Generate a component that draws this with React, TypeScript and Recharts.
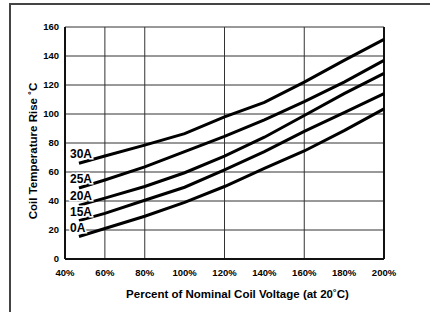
import React from "react";
import { LineChart, Line, XAxis, YAxis, CartesianGrid, ReferenceLine } from "recharts";

const voltagePct = [47, 60, 80, 100, 120, 140, 160, 180, 200];
const rise30A = [66, 71, 78.5, 86.5, 98, 108, 122, 137, 151.5];
const rise25A = [49, 54.5, 63.5, 74, 84.5, 96, 108.5, 122, 137];
const rise20A = [37, 42, 50, 59.5, 71, 84, 99, 114, 128];
const rise15A = [26.5, 31.5, 40.5, 49.5, 61.5, 74, 88, 101, 114];
const rise0A = [15.5, 21, 29.5, 39, 50, 62.5, 74.5, 88.5, 103.5];

const xTicks = [40, 60, 80, 100, 120, 140, 160, 180, 200];
const yTicks = [0, 20, 40, 60, 80, 100, 120, 140, 160];

const series = [
  { key: "a30", name: "30A", values: rise30A },
  { key: "a25", name: "25A", values: rise25A },
  { key: "a20", name: "20A", values: rise20A },
  { key: "a15", name: "15A", values: rise15A },
  { key: "a0", name: "0A", values: rise0A },
];

const data = voltagePct.map((v, i) => {
  const row: Record<string, number> = { v };
  series.forEach((s) => (row[s.key] = s.values[i]));
  return row;
});

const font = "'Liberation Sans', Arial, Helvetica, sans-serif";
const tickStyle = { fontSize: 9.5, fontWeight: 700, fill: "#000", fontFamily: font };

// current label drawn only at the first point of each curve
const startLabel = (name: string) => (p: any) => {
  if (p.index !== 0) return null;
  return (
    <text
      x={p.x - 9}
      y={p.y - 5}
      fontSize={12}
      fontWeight={700}
      fontFamily={font}
      fill="#000"
      stroke="#fff"
      strokeWidth={3}
      paintOrder="stroke"
    >
      {name}
    </text>
  );
};

export default function App() {
  return (
    <div style={{ position: "absolute", left: 0, top: 0, width: 430, height: 312, background: "#fff" }}>
      <div
        style={{
          position: "absolute",
          left: 9,
          top: 3,
          width: 421,
          height: 309,
          borderTop: "2px solid #444",
          borderLeft: "2px solid #444",
          boxSizing: "border-box",
        }}
      />
      <div style={{ position: "absolute", left: 0, top: 0 }}>
        <LineChart width={430} height={312} data={data} margin={{ top: 27, right: 46, bottom: 23, left: 25 }}>
          <CartesianGrid stroke="#333" strokeWidth={1} />
          <XAxis
            dataKey="v"
            type="number"
            domain={[40, 200]}
            ticks={xTicks}
            tickFormatter={(v) => `${v}%`}
            tick={tickStyle}
            tickLine={false}
            tickSize={6}
            tickMargin={4}
            height={30}
            axisLine={{ stroke: "#111", strokeWidth: 2 }}
            label={{
              content: (props: any) => {
                const vb = props.viewBox;
                return (
                  <text
                    x={vb.x + vb.width / 2 + 13}
                    y={298}
                    textAnchor="middle"
                    fontSize={11.5}
                    fontWeight={700}
                    fontFamily={font}
                    fill="#000"
                  >
                    Percent of Nominal Coil Voltage (at 20˚C)
                  </text>
                );
              },
            }}
          />
          <YAxis
            type="number"
            domain={[0, 160]}
            ticks={yTicks}
            tick={tickStyle}
            tickLine={false}
            tickSize={4}
            tickMargin={2}
            width={40}
            axisLine={{ stroke: "#111", strokeWidth: 2 }}
            label={{
              content: (props: any) => {
                const vb = props.viewBox;
                const cy = vb.y + vb.height / 2 + 8;
                return (
                  <text
                    x={33}
                    y={cy}
                    transform={`rotate(-90 33 ${cy})`}
                    textAnchor="middle"
                    dominantBaseline="central"
                    fontSize={11.5}
                    fontWeight={700}
                    fontFamily={font}
                    fill="#000"
                  >
                    Coil Temperature Rise ˚C
                  </text>
                );
              },
            }}
          />
          <ReferenceLine x={200} stroke="#111" strokeWidth={2} />
          {series.map((s) => (
            <Line
              key={s.key}
              type="linear"
              dataKey={s.key}
              stroke="#000"
              strokeWidth={3}
              dot={false}
              label={startLabel(s.name)}
              isAnimationActive={false}
            />
          ))}
        </LineChart>
      </div>
    </div>
  );
}
